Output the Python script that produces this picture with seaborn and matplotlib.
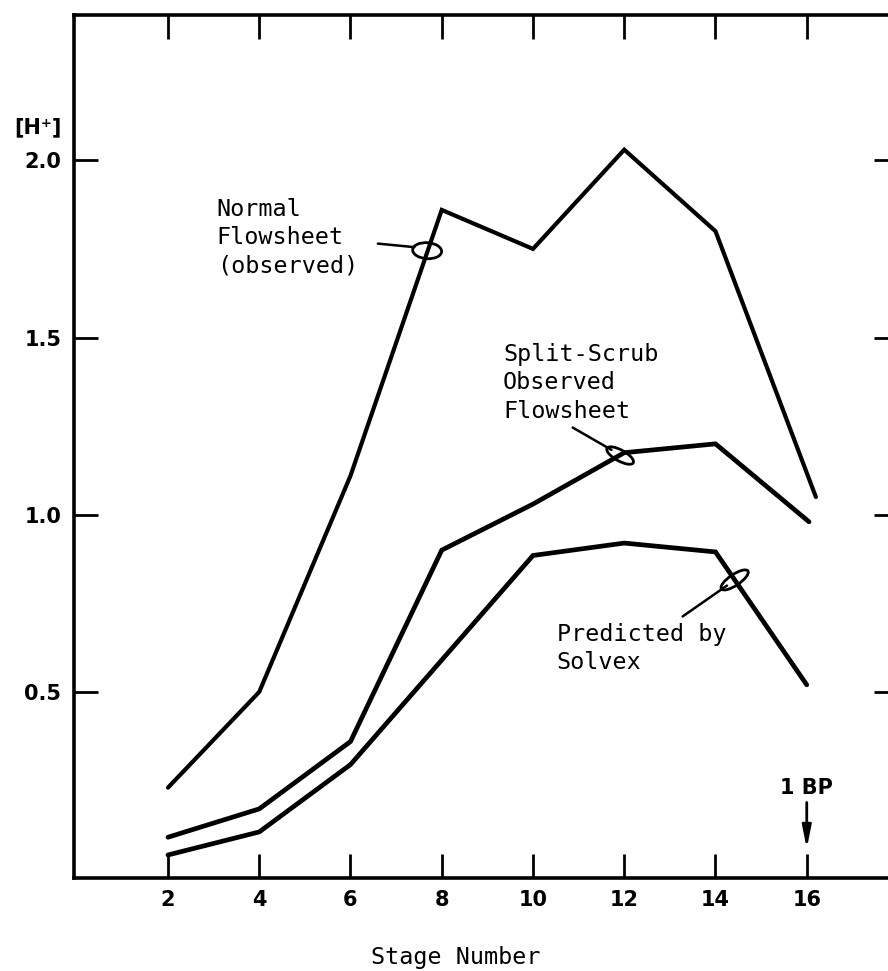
import numpy as np
import pandas as pd
import seaborn as sns
import matplotlib
matplotlib.use("Agg")
import matplotlib.pyplot as plt
from matplotlib.patches import Ellipse
from matplotlib.transforms import ScaledTranslation

# [H+] profiles along the extraction bank
stages_normal = [2, 4, 6, 8, 10, 12, 14, 16.2]
h_normal = [0.23, 0.50, 1.11, 1.86, 1.75, 2.03, 1.80, 1.05]

stages_split = [2, 4, 6, 8, 10, 12, 14, 16.05]
h_split = [0.09, 0.17, 0.36, 0.90, 1.03, 1.175, 1.20, 0.98]

stages_pred = [2, 4, 6, 8, 10, 12, 14, 16]
h_pred = [0.04, 0.105, 0.295, 0.59, 0.885, 0.92, 0.895, 0.52]

x_ticks = [2, 4, 6, 8, 10, 12, 14, 16]
y_ticks = [0.5, 1.0, 1.5, 2.0]
y_tick_labels = ["0.5", "1.0", "1.5", "2.0"]

sns.set_theme(style="ticks")
plt.rcParams["font.family"] = ["DejaVu Sans"]
plt.rcParams["text.color"] = "black"
plt.rcParams["xtick.color"] = "black"
plt.rcParams["ytick.color"] = "black"
plt.rcParams["axes.labelcolor"] = "black"

fig = plt.figure(figsize=(8.88, 9.71), dpi=100)
ax = fig.add_axes([0.08333, 0.09578, 0.92793, 0.88877])

series = [
    ("Normal", stages_normal, h_normal, 3.0),
    ("Split", stages_split, h_split, 3.4),
    ("Predicted", stages_pred, h_pred, 3.4),
]
for name, xs, ys, lw in series:
    df = pd.DataFrame({"stage": xs, "h": ys})
    sns.lineplot(data=df, x="stage", y="h", color="black", linewidth=lw,
                 estimator=None, sort=False, ax=ax, legend=False,
                 solid_capstyle="round", solid_joinstyle="miter")

ax.set_xlim(-0.06, 18.0)
ax.set_ylim(-0.025, 2.41)
ax.set_xticks(x_ticks)
ax.set_xticklabels([str(v) for v in x_ticks])
ax.set_yticks(y_ticks)
ax.set_yticklabels(y_tick_labels)
ax.set_xlabel("")
ax.set_ylabel("")

for side in ["left", "right", "top", "bottom"]:
    ax.spines[side].set_linewidth(2.6)
    ax.spines[side].set_color("black")

ax.tick_params(axis="both", which="major", direction="in", length=17, width=2.0,
               color="black", labelcolor="black", top=True, right=True, labelsize=15)
ax.tick_params(axis="x", pad=9)
ax.tick_params(axis="y", pad=9)
for lab in ax.get_xticklabels() + ax.get_yticklabels():
    lab.set_fontweight("bold")

mono = "DejaVu Sans Mono"
tfs = 16.8
lsp = 1.3

# curve labels with leader lines and ring markers
ax.text(3.07, 1.895, "Normal\nFlowsheet\n(observed)", family=mono, fontsize=tfs,
        ha="left", va="top", linespacing=lsp, color="black")
ax.plot([6.60, 7.40], [1.765, 1.755], color="black", lw=1.8)

ax.text(9.34, 1.485, "Split-Scrub\nObserved\nFlowsheet", family=mono, fontsize=tfs,
        ha="left", va="top", linespacing=lsp, color="black")
ax.plot([10.87, 11.72], [1.246, 1.183], color="black", lw=1.8)

ax.text(10.52, 0.695, "Predicted by\nSolvex", family=mono, fontsize=tfs,
        ha="left", va="top", linespacing=lsp, color="black")
ax.plot([13.28, 14.25], [0.713, 0.800], color="black", lw=1.8)


def ring(xc, yc, w_px, h_px, angle):
    tr = fig.dpi_scale_trans + ScaledTranslation(xc, yc, ax.transData)
    e = Ellipse((0, 0), w_px / fig.dpi, h_px / fig.dpi, angle=angle,
                transform=tr, fill=False, edgecolor="black", lw=2.0)
    ax.add_patch(e)


ring(7.68, 1.745, 29, 16, -4)
ring(11.91, 1.167, 30, 11, -29)
ring(14.42, 0.816, 32, 11, 34)

# break point marker
ax.text(16.0, 0.228, "1 BP", fontsize=15, fontweight="bold", ha="center", va="center",
        color="black")
ax.annotate("", xy=(16.0, 0.058), xytext=(16.0, 0.188),
            arrowprops=dict(arrowstyle="-|>,head_length=1.1,head_width=0.22",
                            color="black", lw=2.0, shrinkA=0, shrinkB=0))

fig.text(38 / 888, 1 - 127 / 971, "[H\u207a]", fontsize=15, fontweight="bold",
         ha="center", va="center", color="black")
fig.text(456 / 888, 1 - 957 / 971, "Stage Number", family=mono, fontsize=tfs,
         ha="center", va="center", color="black")

fig.savefig("out.png", dpi=100, facecolor="white")
